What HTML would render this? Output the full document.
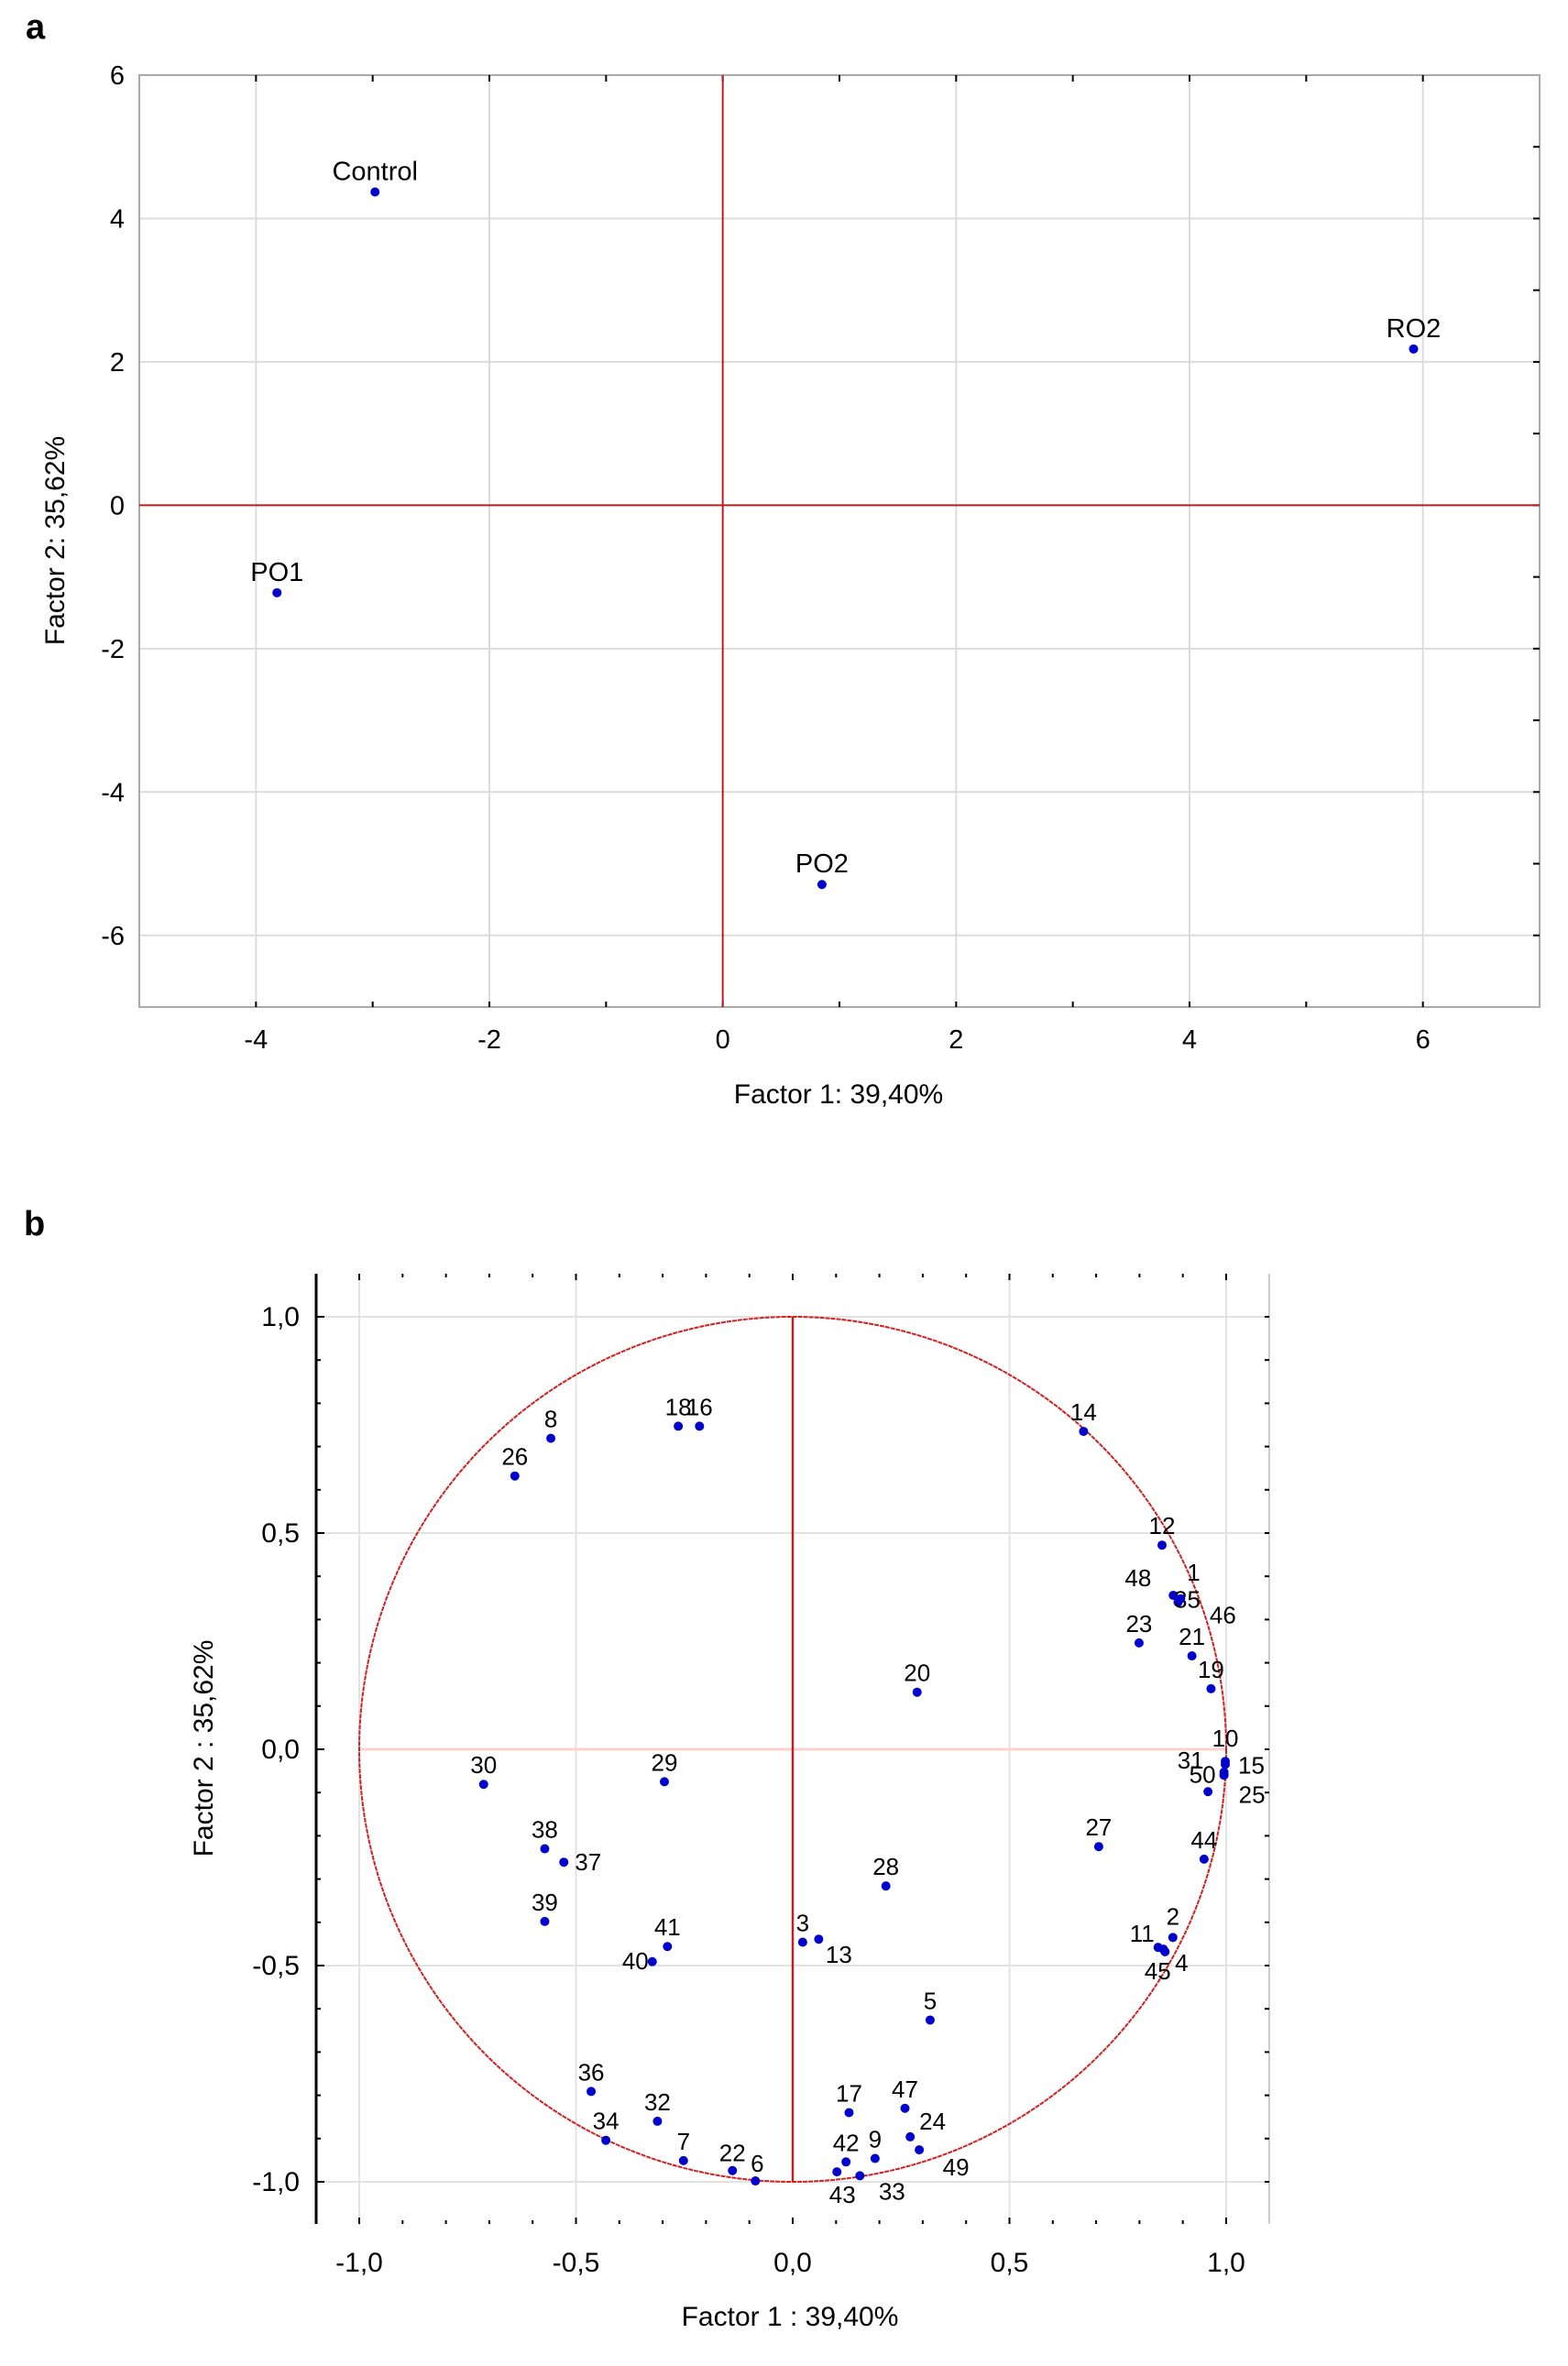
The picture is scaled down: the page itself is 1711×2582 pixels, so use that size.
<!DOCTYPE html>
<html><head><meta charset="utf-8">
<style>
html,body{margin:0;padding:0;background:#fff;}
svg{display:block;font-family:"Liberation Sans",Arial,sans-serif;}
</style></head>
<body>
<svg id="fig" width="1711" height="2582" viewBox="0 0 1711 2582" xmlns="http://www.w3.org/2000/svg">
<text x="28" y="42" font-size="38" font-weight="bold">a</text>
<text x="26" y="1348" font-size="38" font-weight="bold">b</text>
<g id="chartA"></g>
<g id="chartB"></g>
</svg>
<script>
// ---------- Chart A data ----------
const aNames = ["Control", "PO1", "RO2", "PO2"];
const aF1 = [-2.98, -3.82, 5.92, 0.85];
const aF2 = [4.37, -1.22, 2.18, -5.29];
const aXTicks = [-4, -2, 0, 2, 4, 6];
const aYTicks = [6, 4, 2, 0, -2, -4, -6];

// ---------- Chart B data ----------
const bNames = ["14","18","16","8","26","12","1","48","35","46","23","21","19","20","10","15","31","50","25","30","29","27","44","38","37","28","39","41","40","3","13","2","11","45","4","5","36","32","34","7","22","6","17","47","24","49","9","42","43","33"];
const bF1 = [0.671,-0.264,-0.215,-0.558,-0.641,0.852,0.891,0.878,0.889,0.895,0.799,0.921,0.965,0.287,0.998,0.998,0.995,0.958,0.995,-0.713,-0.296,0.706,0.949,-0.572,-0.528,0.215,-0.572,-0.289,-0.324,0.023,0.06,0.877,0.843,0.859,0.855,0.317,-0.465,-0.312,-0.431,-0.252,-0.139,-0.086,0.130,0.259,0.271,0.292,0.190,0.123,0.102,0.155];
const bF2 = [0.735,0.747,0.747,0.719,0.632,0.472,0.345,0.356,0.340,0.348,0.246,0.216,0.140,0.132,-0.028,-0.035,-0.053,-0.098,-0.060,-0.081,-0.075,-0.225,-0.254,-0.230,-0.261,-0.316,-0.398,-0.456,-0.491,-0.446,-0.439,-0.435,-0.458,-0.468,-0.462,-0.626,-0.791,-0.860,-0.904,-0.951,-0.974,-0.998,-0.840,-0.830,-0.896,-0.926,-0.946,-0.954,-0.977,-0.986];
const bTicks = [-1.0, -0.5, 0.0, 0.5, 1.0];
const bTickLabels = ["-1,0", "-0,5", "0,0", "0,5", "1,0"];

const NS = "http://www.w3.org/2000/svg";
function mk(parent, tag, attrs, text){
  const e = document.createElementNS(NS, tag);
  for (const k in attrs) e.setAttribute(k, attrs[k]);
  if (text !== undefined) e.textContent = text;
  parent.appendChild(e);
  return e;
}

// ---------- Chart A ----------
(function(){
  const g = document.getElementById('chartA');
  const L=152, R=1680, T=82, B=1099;
  const xmin=-5, xmax=7, ymin=-7, ymax=6;
  const sx = v => L + (v - xmin) / (xmax - xmin) * (R - L);
  const sy = v => B - (v - ymin) / (ymax - ymin) * (B - T);
  aXTicks.forEach(t => { if (t!==0){ const l=mk(g,'line',{x1:sx(t),x2:sx(t),y1:T,y2:B,stroke:'#dcdcdc','stroke-width':2});
      }});
  aYTicks.forEach(t => { if (t!==0){ const l=mk(g,'line',{x1:L,x2:R,y1:sy(t),y2:sy(t),stroke:'#dcdcdc','stroke-width':2});
      }});
  const fr = mk(g,'rect',{x:L,y:T,width:R-L,height:B-T,fill:'none',stroke:'#aaa','stroke-width':2});
   
  for (let v=xmin+1; v<xmax; v++){ const l=mk(g,'line',{x1:sx(v),x2:sx(v),y1:T,y2:T+7,stroke:'#000','stroke-width':2});
     
    const l2=mk(g,'line',{x1:sx(v),x2:sx(v),y1:B,y2:B-6,stroke:'#000','stroke-width':2});
      }
  for (let v=ymin+1; v<ymax; v++){ const l=mk(g,'line',{x1:R,x2:R-7,y1:sy(v),y2:sy(v),stroke:'#000','stroke-width':2});
      }
  const zx=mk(g,'line',{x1:sx(0),x2:sx(0),y1:T,y2:B,stroke:'#b22222','stroke-width':2});
   
  const zy=mk(g,'line',{x1:L,x2:R,y1:sy(0),y2:sy(0),stroke:'#b22222','stroke-width':2});
   
  aXTicks.forEach(t => { const e=mk(g,'text',{x:sx(t),y:1144,'font-size':29,'text-anchor':'middle'},String(t));
      });
  aYTicks.forEach(t => { const e=mk(g,'text',{x:136,y:sy(t)+10,'font-size':29,'text-anchor':'end'},String(t));
      });
  const xt=mk(g,'text',{x:915,y:1204,'font-size':30,'text-anchor':'middle'},'Factor 1: 39,40%');
   
  const yt=mk(g,'text',{x:0,y:0,'font-size':30,'text-anchor':'middle',transform:'translate(70,590) rotate(-90)'},'Factor 2: 35,62%');
   
  aNames.forEach((n,i) => {
    const c=mk(g,'circle',{cx:sx(aF1[i]),cy:sy(aF2[i]),r:5,fill:'#0000cc'});
     
    const t=mk(g,'text',{x:sx(aF1[i]),y:sy(aF2[i])-13,'font-size':29,'text-anchor':'middle'},n);
     
  });
})();

// ---------- Chart B ----------
(function(){
  const g = document.getElementById('chartB');
  const L=345, R=1385, T=1390, B=2427;
  const x0=865, ux=473, y0=1909, uy=472;
  const sx = v => x0 + v*ux;
  const sy = v => y0 - v*uy;
  bTicks.forEach(t => {
    if (t!==0){ const l=mk(g,'line',{x1:sx(t),x2:sx(t),y1:T,y2:B,stroke:'#e2e2e2','stroke-width':2});
       
      const l2=mk(g,'line',{x1:L,x2:R,y1:sy(t),y2:sy(t),stroke:'#e2e2e2','stroke-width':2});
        }
  });
  const rb=mk(g,'line',{x1:R,x2:R,y1:T,y2:B,stroke:'#ccc','stroke-width':2});
   
  const la=mk(g,'line',{x1:L,x2:L,y1:T,y2:B,stroke:'#000','stroke-width':3});
   
  for (let k=-10; k<=10; k++){ const v=k/10;
    const big = (k%5===0);
    const tt=mk(g,'line',{x1:sx(v),x2:sx(v),y1:T,y2:T+(big?7:4),stroke:'#000','stroke-width':2});
     
    const tb=mk(g,'line',{x1:sx(v),x2:sx(v),y1:B,y2:B-(big?7:4),stroke:'#000','stroke-width':2});
     
    const tl=mk(g,'line',{x1:L,x2:L+(big?9:5),y1:sy(v),y2:sy(v),stroke:'#000','stroke-width':2});
     
    const tr=mk(g,'line',{x1:R,x2:R-5,y1:sy(v),y2:sy(v),stroke:'#000','stroke-width':2});
     
  }
  const zy=mk(g,'line',{x1:sx(-1),x2:sx(1),y1:sy(0),y2:sy(0),stroke:'#ffd0d0','stroke-width':3});
   
  const zx=mk(g,'line',{x1:sx(0),x2:sx(0),y1:sy(1),y2:sy(-1),stroke:'#c02020','stroke-width':2.5});
   
  const circ=mk(g,'ellipse',{cx:sx(0),cy:sy(0),rx:ux,ry:uy,fill:'none',stroke:'#d02020','stroke-width':2,'stroke-dasharray':'5 1'});
   
  bTicks.forEach((t,i) => {
    const e=mk(g,'text',{x:sx(t),y:2479,'font-size':30,'text-anchor':'middle'},bTickLabels[i]);
     
    const e2=mk(g,'text',{x:327,y:sy(t)+10,'font-size':30,'text-anchor':'end'},bTickLabels[i]);
     
  });
  const xt=mk(g,'text',{x:862,y:2538,'font-size':30,'text-anchor':'middle'},'Factor 1 : 39,40%');
   
  const yt=mk(g,'text',{x:0,y:0,'font-size':30,'text-anchor':'middle',transform:'translate(232,1908) rotate(-90)'},'Factor 2 : 35,62%');
   
  const off = {"13":[22,26,'middle'],"37":[12,9,'start'],"40":[-4,8,'end'],"11":[-4,-6,'end'],"45":[-8,30,'middle'],"4":[20,24,'middle'],
    "43":[6,34,'middle'],"33":[35,26,'middle'],"49":[40,28,'middle'],"24":[10,-8,'start'],"25":[16,30,'start'],"15":[14,10,'start'],
    "31":[-22,-4,'end'],"50":[-6,-10,'middle'],"46":[46,27,'middle'],"1":[16,-21,'middle'],"48":[-24,-10,'end'],"35":[10,6,'middle'],
    "10":[0,-16,'middle'],"3":[0,-12,'middle'],"2":[0,-14,'middle'],"26":[0,-12,'middle'],"22":[0,-10,'middle'],"6":[2,-10,'middle']};
  bNames.forEach((n,i) => {
    const px=sx(bF1[i]), py=sy(bF2[i]);
    const c=mk(g,'circle',{cx:px,cy:py,r:5,fill:'#0000cc'});
     
    const o = off[n] || [0,-12,'middle'];
    const t=mk(g,'text',{x:px+o[0],y:py+o[1],'font-size':26,'text-anchor':o[2]},n);
     
  });
})();
</script>
</body></html>
